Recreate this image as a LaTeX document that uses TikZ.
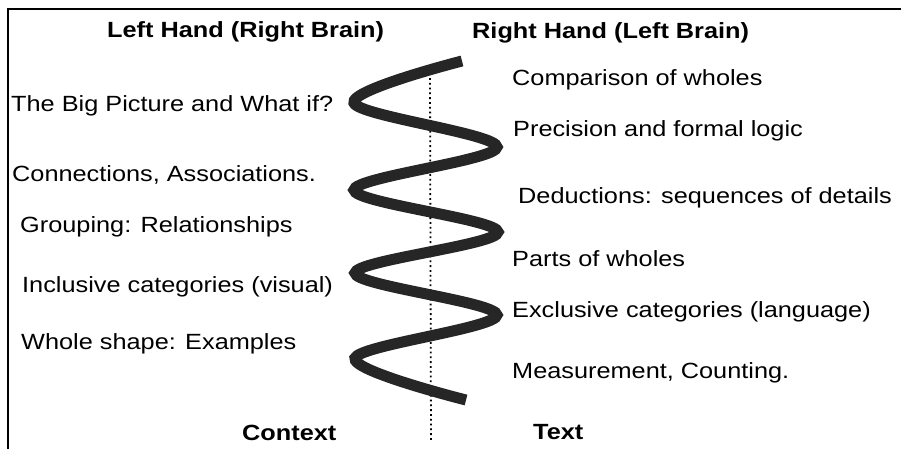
\documentclass[tikz,border=0pt]{standalone}
\usepackage{fontspec}
\setmainfont[FakeStretch=1.15]{Liberation Sans}
\usepackage{tikz}
\usetikzlibrary{positioning}

\begin{document}
\begin{tikzpicture}[x=1pt, y=-1pt,
    item/.style={anchor=base west, inner sep=0pt, font=\fontsize{22}{26}\selectfont},
    head/.style={item, font=\fontsize{22}{26}\selectfont\bfseries}]

    \useasboundingbox (0,0) rectangle (901,448);
    \clip (0,0) rectangle (901,448);
    \draw[line width=2pt] (8,9) rectangle (920,470);

    \node[head] (lefthead) at (107,37) {Left Hand (Right Brain)};
    \node[head] (righthead) at (472,38) {Right Hand (Left Brain)};

    % left hand side
    \node[item] (bigpic) at (11,111) {The Big Picture and What if?};
    \node[item] (conn) at (12,181) {Connections, Associations.};
    \node[item] (group) at (20,232) {Grouping: Relationships};
    \node[item] (incl) at (22,292) {Inclusive categories (visual)};
    \node[item] (whole) at (21,349) {Whole shape: Examples};
    \node[head] (context) at (242,440) {Context};

    % right hand side
    \node[item] (comp) at (512,85) {Comparison of wholes};
    \node[item] (prec) at (513,136) {Precision and formal logic};
    \node[item] (deduc) at (518,203) {Deductions: sequences of details};
    \node[item] (parts) at (512,266) {Parts of wholes};
    \node[item] (excl) at (512,317) {Exclusive categories (language)};
    \node[item] (meas) at (512,378) {Measurement, Counting.};
    \node[head] (text) at (533,439) {Text};

    % dotted middle line
    \coordinate (axtop) at (430,78);
    \coordinate (axbot) at (431,440);
    \draw[line width=1.8pt, dash pattern=on 1.8pt off 3pt] (axtop) -- (axbot);

    % the wave
    \draw[line width=11pt, black!85] plot[smooth, tension=0.55] coordinates
        {(462,61) (354,103) (497,147) (354,190) (498,232) (355,273) (497,315) (355,358) (466,400)};

\end{tikzpicture}
\end{document}
